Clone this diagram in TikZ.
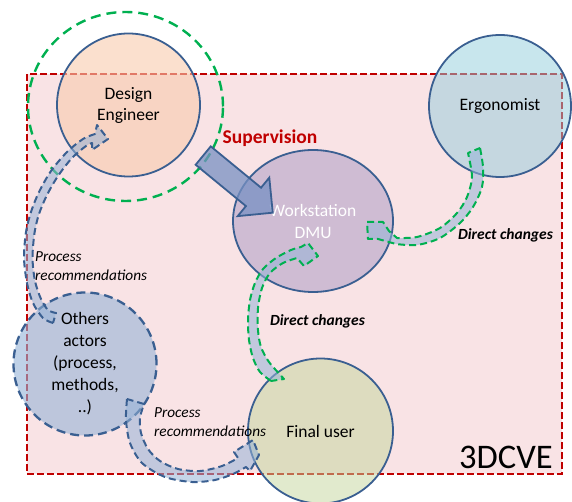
\documentclass[tikz,border=0pt]{standalone}
\usepackage{fontspec}
\setmainfont{Carlito}
\usetikzlibrary{shapes.geometric,shapes.arrows}
\definecolor{rectfill}{RGB}{249,227,229}
\definecolor{rectline}{RGB}{192,0,0}
\definecolor{nodeline}{RGB}{58,95,145}
\definecolor{defill}{RGB}{248,203,173}
\definecolor{ergfill}{RGB}{146,205,220}
\definecolor{dmufill}{RGB}{179,162,199}
\definecolor{othfill}{RGB}{149,179,215}
\definecolor{fufill}{RGB}{195,214,155}
\definecolor{grn}{RGB}{0,176,80}
\definecolor{bandfill}{RGB}{149,179,215}
\definecolor{supfill}{RGB}{120,145,195}
\tikzset{
  actor/.style={circle, draw=nodeline, line width=1.8pt, inner sep=0pt, align=center,
    fill opacity=0.6, text opacity=1, font=\fontsize{17.5}{21}\selectfont},
  band/.style={fill=bandfill, fill opacity=0.55, line width=2pt, dash pattern=on 7pt off 4pt, line join=round},
  blueband/.style={band, draw=nodeline},
  greenband/.style={band, draw=grn},
  italbl/.style={font=\fontsize{15.3}{19}\selectfont\itshape, anchor=west, align=left, inner sep=0pt},
  chglbl/.style={font=\fontsize{15.5}{18}\selectfont\bfseries\itshape, inner sep=0pt}
}
\begin{document}
\begin{tikzpicture}[x=1pt,y=-1pt]
\useasboundingbox (0,0) rectangle (572,502);
% environment
\node[rectangle, draw=rectline, fill=rectfill, line width=2pt, dash pattern=on 7pt off 3pt,
  minimum width=535pt, minimum height=400pt, inner sep=0pt] (env) at (294.5,274) {};
% actors
\node[actor, fill=defill, minimum size=143pt] (de) at (128.5,105) {Design\\Engineer};
\node[actor, fill=ergfill, fill opacity=0.5, minimum size=142pt] (erg) at (500,106) {Ergonomist};
\node[ellipse, draw=nodeline, line width=1.8pt, inner sep=0pt, align=center, fill=dmufill,
  fill opacity=0.6, text opacity=1, text=white, font=\fontsize{17.5}{22}\selectfont,
  minimum width=160pt, minimum height=142pt] (dmu) at (313,221) {Workstation\\DMU};
\node[actor, fill=othfill, dash pattern=on 9pt off 5pt, line width=2.3pt, minimum size=143pt,
  font=\fontsize{17.5}{22}\selectfont] (oth) at (85,364) {Others\\actors\\(process,\\methods,\\..)};
\node[actor, fill=fufill, fill opacity=0.5, minimum size=145pt] (fu) at (320.5,431) {Final user};
% green ring
\node[ellipse, draw=grn, line width=2.4pt, dash pattern=on 10pt off 6pt, inner sep=0pt,
  minimum width=195pt, minimum height=189pt] (ring) at (125.5,106.5) {};
% supervision arrow
\node[single arrow, draw=nodeline, fill=supfill, fill opacity=0.75, line width=1.8pt,
  inner sep=0pt, inner ysep=11pt, single arrow head extend=13pt, minimum height=90pt,
  rotate=-39.4, anchor=tail] (sup) at (202.5,155) {};
\node[font=\fontsize{19.5}{22}\selectfont\bfseries, text=rectline, inner sep=0pt] (suplbl) at (270,138) {Supervision};
% curved arrow: Others -> Design Engineer
\draw[blueband] plot[smooth] coordinates {(53,323) (43,318) (33,303) (27,283) (24,258) (26,232) (31,212) (39,192) (51,171) (67,152) (83,139) (95,134)}
  -- (97,125) -- (108,139) -- (92,150) --
  plot[smooth] coordinates {(92,143) (86,146) (72,158) (58,176) (47,195) (39,214) (34.5,233) (32.5,258) (35,281) (41,299) (48,310) (56,313)} -- cycle;
% curved arrow: Others -> Final user
\draw[blueband] plot[smooth] coordinates {(127,399) (126,420) (130,443) (142,463) (165,477) (192,482) (215,480) (233,474) (246,467)}
  -- (250,471) -- (259,455) -- (253,440) -- (234,452) --
  plot[smooth] coordinates {(238,458) (222,466) (200,471) (178,469) (160,461) (148,449) (141,433) (140,418) (144,404)} -- cycle;
% curved arrow: Final user -> DMU
\draw[greenband] plot[smooth] coordinates {(271,381) (260,372) (253,358) (249,340) (248,320) (250,300) (255,283) (263,269) (276,258) (291,250) (301,247)}
  -- (308,243) -- (318,256) -- (304,266) --
  plot[smooth] coordinates {(297,258) (283,263) (270,273) (262,288) (258,308) (258,330) (261,347) (269,362) (284,379)} -- cycle;
% curved arrow: Ergonomist -> DMU
\draw[greenband] plot[smooth] coordinates {(480,148) (483,167) (482,187) (473,207) (460,223) (440,238) (417,245) (396,244)}
  -- (378,239) -- (368,239) -- (367,222) -- (383,222) -- (389,231) --
  plot[smooth] coordinates {(397,238) (417,237) (440,228) (457,213) (467,197) (472,177) (468,153)} -- cycle;
% labels
\node[italbl] (prA) at (35,266.5) {Process\\recommendations};
\node[italbl] (prB) at (154,422) {Process\\recommendations};
\node[chglbl] (dcA) at (505.5,235) {Direct changes};
\node[chglbl] (dcB) at (317.5,321) {Direct changes};
\node[font=\fontsize{34.5}{40}\selectfont, inner sep=0pt] (title) at (506,457) {3DCVE};
\end{tikzpicture}
\end{document}
